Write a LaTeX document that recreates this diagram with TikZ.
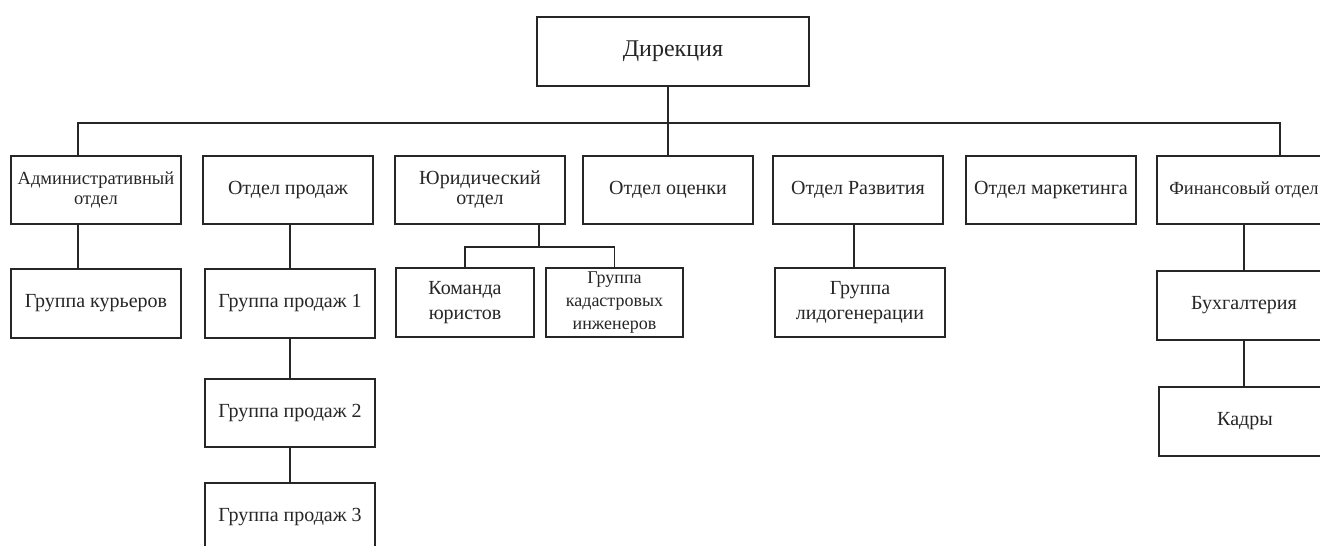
\documentclass[tikz,border=0pt]{standalone}
\usepackage{fontspec}
\setmainfont{Liberation Serif}
\begin{document}
\begin{tikzpicture}[x=1pt,y=-1pt,
  box/.style={draw=black!85, line width=1.3pt, fill=white, inner sep=0pt,
    align=center, font=\fontsize{20}{25}\selectfont, text=black!85},
  wire/.style={draw=black!85, line width=1.3pt}]
\useasboundingbox (0,0) rectangle (1320,546);
\clip (0,0) rectangle (1320,546);
% top
\node[box, minimum width=272, minimum height=69, font=\fontsize{24}{28}\selectfont] (dir) at (673,51.5) {Дирекция};
% level 1
\node[box, minimum width=170, minimum height=68, font=\fontsize{18.5}{20}\selectfont] (admin) at (96,190) {Административный\\отдел};
\node[box, minimum width=170, minimum height=68] (sales) at (288,190) {Отдел продаж};
\node[box, minimum width=170, minimum height=68, font=\fontsize{20}{20}\selectfont] (legal) at (480,190) {Юридический\\отдел};
\node[box, minimum width=170, minimum height=68] (otsenki) at (668,190) {Отдел оценки};
\node[box, minimum width=170, minimum height=68] (razv) at (858,190) {Отдел Развития};
\node[box, minimum width=170, minimum height=68] (mark) at (1051,190) {Отдел маркетинга};
\node[box, minimum width=174, minimum height=68, font=\fontsize{18.5}{22}\selectfont] (fin) at (1244,190) {Финансовый отдел};
% level 2
\node[box, minimum width=170, minimum height=69] (kur) at (96,303.5) {Группа курьеров};
\node[box, minimum width=170, minimum height=69] (g1) at (290,303.5) {Группа продаж 1};
\node[box, minimum width=170, minimum height=68] (g2) at (290,413) {Группа продаж 2};
\node[box, minimum width=170, minimum height=69] (g3) at (290,517.5) {Группа продаж 3};
\node[box, minimum width=138, minimum height=69] (kom) at (465,302.5) {Команда\\юристов};
\node[box, minimum width=137, minimum height=69, font=\fontsize{18}{23}\selectfont] (kad) at (614.5,302.5) {Группа\\кадастровых\\инженеров};
\node[box, minimum width=170, minimum height=69] (lid) at (860,302.5) {Группа\\лидогенерации};
\node[box, minimum width=174, minimum height=69] (buh) at (1244,305.5) {Бухгалтерия};
\node[box, minimum width=172, minimum height=69] (kadry) at (1245,421.5) {Кадры};
% coordinates
\coordinate (busR) at (1280,123);
\coordinate (lbar) at (539,247);
% connectors
\draw[wire] (otsenki.north |- dir.south) -- (otsenki.north);
\draw[wire] ([xshift=-18]admin.north) |- (busR) -- (busR |- fin.north);
\draw[wire] ([xshift=-18]admin.south) -- ([xshift=-18]kur.north);
\draw[wire] (g1.north |- sales.south) -- (g1.north);
\draw[wire] (g1.south) -- (g2.north);
\draw[wire] (g2.south) -- (g3.north);
\draw[wire] (lbar |- legal.south) -- (lbar);
\draw[wire] (kom.north) |- (lbar) -| (kad.north);
\draw[wire] ([xshift=-4]razv.south) -- ([xshift=-4]razv.south |- lid.north);
\draw[wire] (fin.south) -- (buh.north);
\draw[wire] (buh.south) -- (buh.south |- kadry.north);
\end{tikzpicture}
\end{document}
